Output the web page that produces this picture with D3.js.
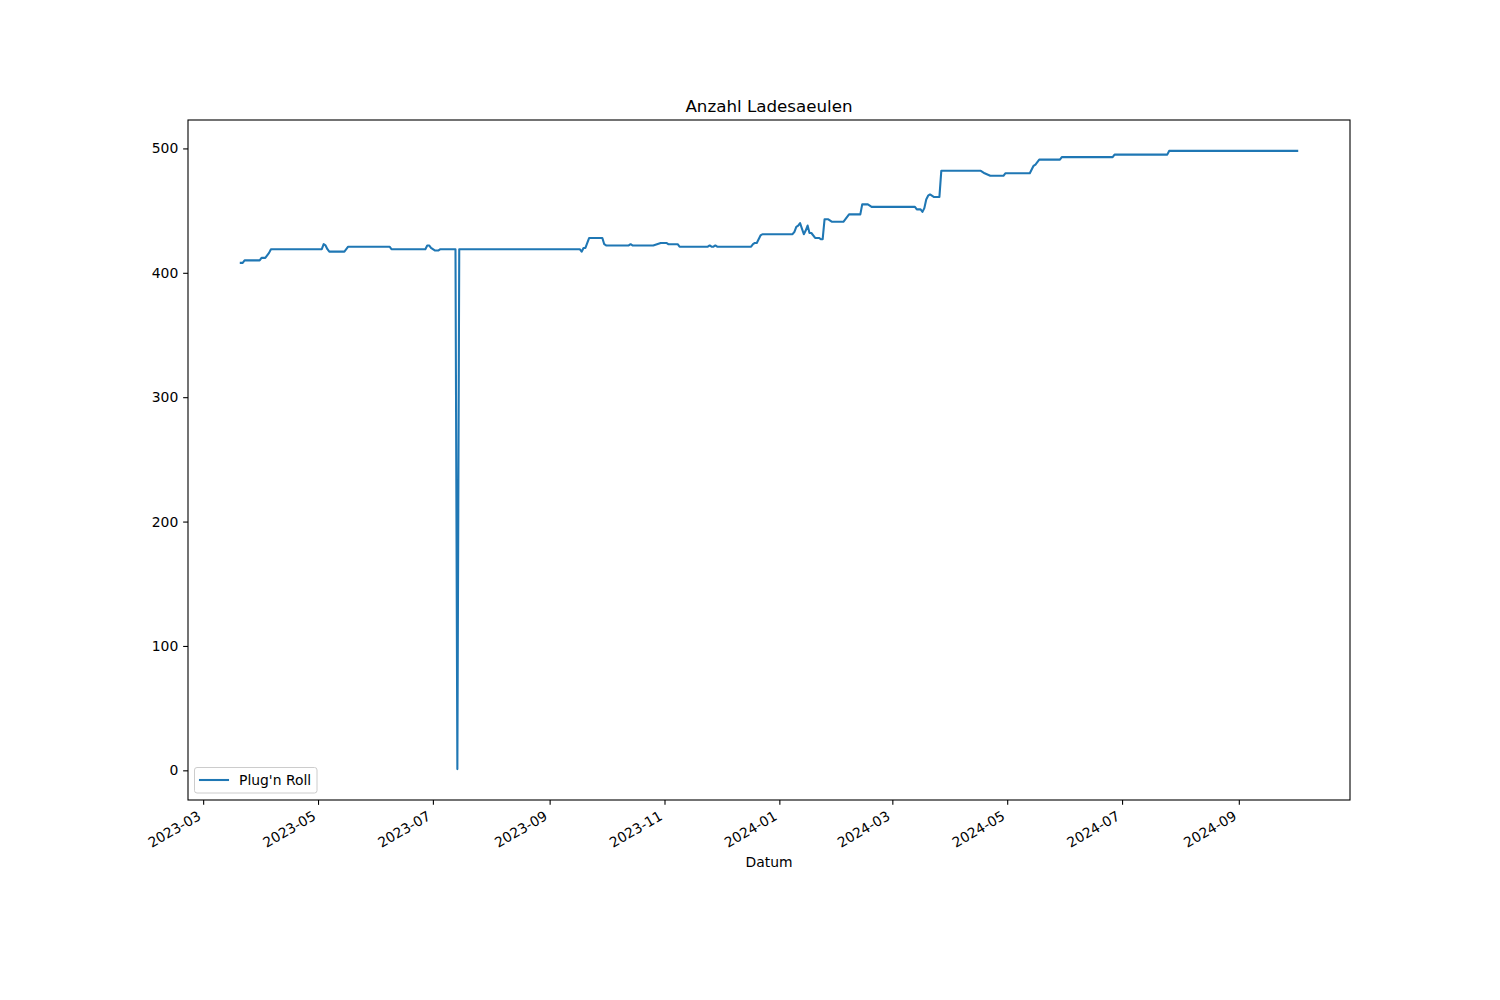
<!DOCTYPE html>
<html>
<head>
<meta charset="utf-8">
<script src="https://cdn.jsdelivr.net/npm/d3@7"></script>
<style>
  html, body { margin: 0; padding: 0; background: #fff; }
  svg { display: block; font-family: "DejaVu Sans", sans-serif; }
</style>
</head>
<body>
<svg id="chart" width="1500" height="1000"></svg>
<script>
// ---- data ----
const dates = [
  "2023-03-21","2023-03-22","2023-03-23","2023-03-31","2023-04-01","2023-04-03","2023-04-04","2023-04-05","2023-04-06",
  "2023-05-03","2023-05-04","2023-05-05","2023-05-06","2023-05-07","2023-05-15","2023-05-17",
  "2023-06-08","2023-06-09","2023-06-27","2023-06-28","2023-06-29","2023-06-30","2023-07-02","2023-07-04","2023-07-05",
  "2023-07-13","2023-07-14","2023-07-15",
  "2023-09-17","2023-09-18","2023-09-19","2023-09-20","2023-09-22","2023-09-29","2023-09-30","2023-10-01",
  "2023-10-13","2023-10-14","2023-10-15","2023-10-26","2023-10-28","2023-10-30","2023-11-02","2023-11-03","2023-11-08","2023-11-09",
  "2023-11-24","2023-11-25","2023-11-26","2023-11-27","2023-11-28","2023-11-29",
  "2023-12-17","2023-12-18","2023-12-19","2023-12-20","2023-12-22","2023-12-23",
  "2024-01-08","2024-01-09","2024-01-10","2024-01-11","2024-01-12","2024-01-14","2024-01-15","2024-01-16","2024-01-17","2024-01-18",
  "2024-01-20","2024-01-22","2024-01-23","2024-01-24","2024-01-25","2024-01-27","2024-01-29",
  "2024-02-04","2024-02-05","2024-02-07","2024-02-13","2024-02-14","2024-02-17","2024-02-19",
  "2024-03-13","2024-03-14","2024-03-16","2024-03-17","2024-03-18","2024-03-19","2024-03-20","2024-03-21","2024-03-23","2024-03-26","2024-03-27",
  "2024-04-17","2024-04-19","2024-04-22","2024-04-29","2024-04-30",
  "2024-05-13","2024-05-15","2024-05-16","2024-05-18","2024-05-29","2024-05-30",
  "2024-06-26","2024-06-27","2024-07-25","2024-07-26","2024-10-02"
];
const values = [
  408,408,410,410,412,412,414,416,419,
  419,423,422,419,417,417,421,
  421,419,419,422,422,420,418,418,419,
  419,1,419,
  419,417,420,420,428,428,423,422,
  422,423,422,422,423,424,424,423,423,421,
  421,422,421,421,422,421,
  421,423,424,424,430,431,
  431,433,437,438,440,431,434,438,432,432,
  428,428,427,427,443,443,441,
  441,443,447,447,455,455,453,
  453,451,451,449,452,459,462,463,461,461,482,
  482,480,478,478,480,
  480,486,487,491,491,493,
  493,495,495,498,498
];
const seriesName = "Plug'n Roll";
const yTicks = [0, 100, 200, 300, 400, 500];
const titleText = "Anzahl Ladesaeulen";
const xLabelText = "Datum";

// ---- layout ----
const M = { left: 188, right: 1350, top: 120, bottom: 800 };
const parse = d3.utcParse("%Y-%m-%d");
const data = dates.map((d, i) => ({ date: parse(d), value: values[i] }));

const xExt = d3.extent(data, d => d.date);
const xSpan = xExt[1] - xExt[0];
const x = d3.scaleUtc()
  .domain([new Date(+xExt[0] - 0.05 * xSpan), new Date(+xExt[1] + 0.05 * xSpan)])
  .range([M.left, M.right]);
const yExt = d3.extent(data, d => d.value);
const ySpan = yExt[1] - yExt[0];
const y = d3.scaleLinear()
  .domain([yExt[0] - 0.05 * ySpan, yExt[1] + 0.05 * ySpan])
  .range([M.bottom, M.top]);

const svg = d3.select("#chart");
const fs = 13.9;

// line
const line = d3.line().x(d => x(d.date)).y(d => y(d.value));
svg.append("path")
  .datum(data)
  .attr("d", line)
  .attr("fill", "none")
  .attr("stroke", "#1f77b4")
  .attr("stroke-width", 2.08)
  .attr("stroke-linejoin", "round")
  .attr("stroke-linecap", "square");

// spines
svg.append("rect")
  .attr("x", M.left).attr("y", M.top)
  .attr("width", M.right - M.left).attr("height", M.bottom - M.top)
  .attr("fill", "none").attr("stroke", "#000").attr("stroke-width", 1.1);

// y axis
const yAxis = d3.axisLeft(y).tickValues(yTicks).tickSize(4.86).tickPadding(4.86).tickFormat(d3.format("d"));
const gy = svg.append("g").attr("transform", `translate(${M.left},0)`).call(yAxis);
gy.select(".domain").remove();
gy.selectAll(".tick line").attr("stroke", "#000").attr("stroke-width", 1.1);
gy.selectAll(".tick text").attr("font-size", fs).attr("fill", "#000")
  .attr("font-family", "DejaVu Sans");

// x axis
const xTickVals = x.ticks(d3.utcMonth.every(2));
const xAxis = d3.axisBottom(x).tickValues(xTickVals).tickSize(4.86).tickFormat(d3.utcFormat("%Y-%m"));
const gx = svg.append("g").attr("transform", `translate(0,${M.bottom})`).call(xAxis);
gx.select(".domain").remove();
gx.selectAll(".tick line").attr("stroke", "#000").attr("stroke-width", 1.1);
const asc = fs * 0.76, desc = fs * 0.24;
gx.selectAll(".tick text")
  .attr("font-size", fs).attr("fill", "#000").attr("font-family", "DejaVu Sans")
  .attr("text-anchor", "end")
  .attr("dy", null)
  .attr("y", null)
  .attr("transform", `translate(${-0.5 * desc},${9.72 + 0.866 * asc}) rotate(-30)`);

// title
svg.append("text")
  .attr("x", (M.left + M.right) / 2).attr("y", 111.5)
  .attr("text-anchor", "middle")
  .attr("font-size", 16.7)
  .text(titleText);

// x label
svg.append("text")
  .attr("x", (M.left + M.right) / 2).attr("y", 867)
  .attr("text-anchor", "middle")
  .attr("font-size", fs)
  .text(xLabelText);

// legend
const lg = svg.append("g");
lg.append("rect")
  .attr("x", 194.5).attr("y", 767.5).attr("width", 122.5).attr("height", 25.5)
  .attr("rx", 2.5).attr("ry", 2.5)
  .attr("fill", "#fff").attr("fill-opacity", 0.8)
  .attr("stroke", "#cccccc").attr("stroke-width", 1);
lg.append("line")
  .attr("x1", 200).attr("x2", 228).attr("y1", 780).attr("y2", 780)
  .attr("stroke", "#1f77b4").attr("stroke-width", 2.08).attr("stroke-linecap", "square");
lg.append("text")
  .attr("x", 239).attr("y", 785)
  .attr("font-size", fs)
  .text(seriesName);
</script>
</body>
</html>
